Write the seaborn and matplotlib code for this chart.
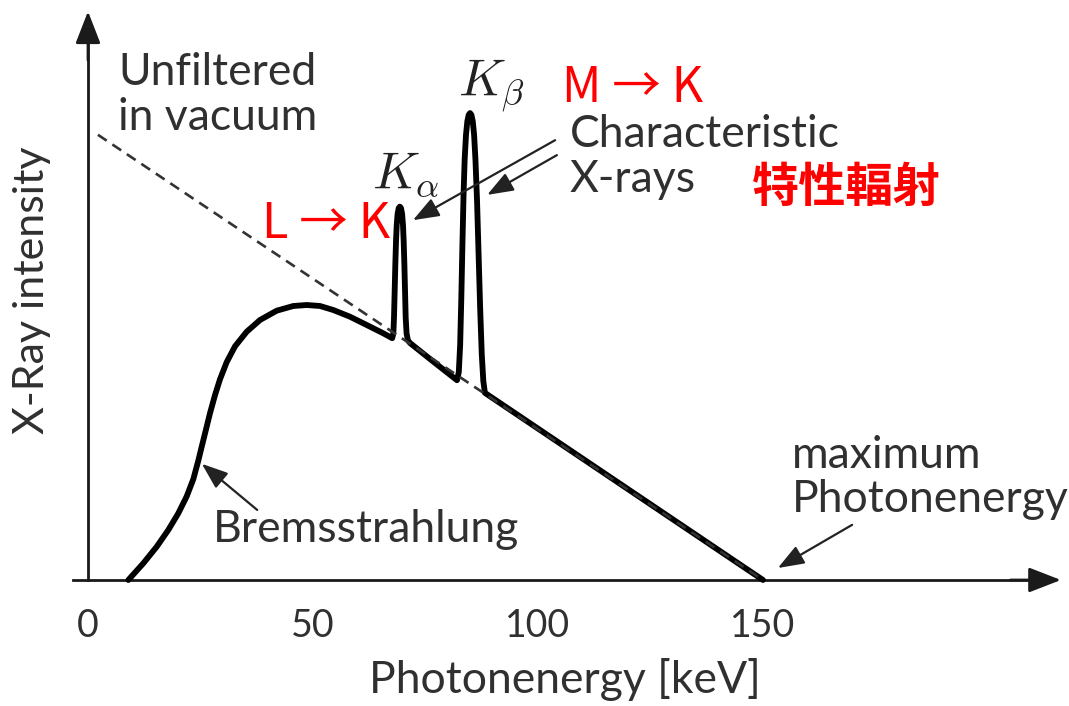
import matplotlib
matplotlib.use("Agg")
import matplotlib.pyplot as plt
import seaborn as sns
import pandas as pd

# ---------------- data ----------------
energy_keV = [8.96, 12.29, 15.27, 17.84, 20.07, 21.93, 23.40, 24.51, 25.27, 26.22, 27.11,
              28.22, 29.33, 30.82, 32.67, 35.27, 38.22, 41.93, 45.62, 48.6, 51.56, 54.51,
              58.22, 61.93, 65.62, 67.6,
              67.85, 68.0, 68.15, 68.3, 68.45, 68.6, 68.8, 69.05, 69.3, 69.55, 69.8, 70.0,
              70.15, 70.3, 70.45, 70.6, 70.8, 71.1, 71.6,
              76.5, 82.0,
              82.4, 82.7, 82.95, 83.2, 83.45, 83.7, 84.0, 84.3, 84.6, 84.9, 85.2, 85.5, 85.8,
              86.1, 86.45, 86.8, 87.15, 87.5, 87.85, 88.2,
              150.0]
intensity = [0.0, 3.69, 7.37, 11.06, 14.76, 18.5, 22.3, 26.4, 29.5, 33.3, 36.9,
             40.9, 44.4, 48.2, 51.7, 54.93, 57.52, 59.58, 60.62, 60.84, 60.62, 59.73,
             58.25, 56.42, 54.58, 53.5,
             54.5, 58.0, 64.0, 70.0, 75.0, 78.5, 81.0, 82.3, 82.6, 82.3, 81.0, 78.5,
             75.0, 70.0, 64.0, 58.0, 54.5, 53.0, 52.4,
             48.5, 44.2,
             46.0, 52.0, 62.0, 74.0, 85.0, 93.0, 98.5, 101.5, 102.9, 103.3, 102.9, 101.5, 98.5,
             93.0, 84.0, 72.0, 60.0, 50.0, 44.0, 41.4,
             0.0]
unfiltered_E = [2.2, 150.0]
unfiltered_I = [98.5, 0.0]
tick_values = [0, 50, 100, 150]
tick_labels = ["0", "50", "100", "150"]

# ---------------- style ----------------
sns.set_theme(style="white")
plt.rcParams["font.family"] = ["Lato", "DejaVu Sans"]
plt.rcParams["mathtext.fontset"] = "cm"

TXT = "#303030"
AX = "#1a1a1a"

fig = plt.figure(figsize=(10.69, 7.06), dpi=100)
ax = fig.add_axes([0, 0, 1, 1])
ax.set_facecolor("white")

# pixel mapping: x_px = 88 + 4.5*E ; y_px = 580 - 4.52*I
ax.set_xlim(-88 / 4.5, (1069 - 88) / 4.5)
ax.set_ylim(-126 / 4.52, 580 / 4.52)

spec = pd.DataFrame({"E": energy_keV, "I": intensity})
unf = pd.DataFrame({"E": unfiltered_E, "I": unfiltered_I})

sns.lineplot(data=spec, x="E", y="I", sort=False, estimator=None, ax=ax,
             color="black", linewidth=4.2, solid_joinstyle="round", zorder=3)
sns.lineplot(data=unf, x="E", y="I", sort=False, estimator=None, ax=ax,
             color="#333333", linewidth=1.9, linestyle=(0, (4.0, 2.6)), zorder=4)

# ---------------- axes ----------------
for s in ["top", "right"]:
    ax.spines[s].set_visible(False)
ax.spines["bottom"].set_position(("data", 0))
ax.spines["left"].set_position(("data", 0))
ax.spines["bottom"].set_bounds(-3.3, 212)
ax.spines["left"].set_bounds(0, 122)
for s in ["bottom", "left"]:
    ax.spines[s].set_linewidth(2.0)
    ax.spines[s].set_color(AX)
    ax.spines[s].set_zorder(2)

ax.set_xticks(tick_values)
ax.set_xticklabels(tick_labels)
ax.set_yticks([])
ax.tick_params(axis="x", direction="out", length=9.5, width=1.5, color=AX,
               pad=11, labelsize=27, labelcolor=TXT)
ax.set_xlabel("")
ax.set_ylabel("")

head = dict(arrowstyle="-|>,head_length=0.9,head_width=0.35", color=AX, lw=2.0,
            shrinkA=0, shrinkB=0, mutation_scale=22)
ax.annotate("", xy=(216.2, 0), xytext=(205, 0), arrowprops=head, zorder=2)
ax.annotate("", xy=(0, 125.8), xytext=(0, 115), arrowprops=head, zorder=2)

# ---------------- texts ----------------
fs = 32
ax.text(106, -25.0, "Photonenergy [keV]", ha="center", va="baseline", fontsize=fs, color=TXT)
ax.text(-12.4, 64.2, "X-Ray intensity", ha="center", va="center", rotation=90,
        fontsize=31, color=TXT)

ax.text(6.7, 109.5, "Unfiltered", ha="left", va="baseline", fontsize=fs, color=TXT)
ax.text(6.7, 99.6, "in vacuum", ha="left", va="baseline", fontsize=fs, color=TXT)
ax.text(107.1, 95.8, "Characteristic", ha="left", va="baseline", fontsize=fs, color=TXT)
ax.text(107.1, 85.8, "X-rays", ha="left", va="baseline", fontsize=fs, color=TXT)
ax.text(27.8, 8.4, "Bremsstrahlung", ha="left", va="baseline", fontsize=fs, color=TXT)
ax.text(156.4, 24.8, "maximum", ha="left", va="baseline", fontsize=fs, color=TXT)
ax.text(156.4, 15.0, "Photonenergy", ha="left", va="baseline", fontsize=fs, color=TXT)

ax.text(63.0, 86.7, r"$K_\alpha$", ha="left", va="baseline", fontsize=37, color="#222222")
ax.text(82.2, 106.9, r"$K_\beta$", ha="left", va="baseline", fontsize=37, color="#222222")

red_fam = ["Noto Sans CJK TC", "DejaVu Sans"]
ax.text(105.3, 105.8, "M → K", ha="left", va="baseline", fontsize=35, color="#ff0000",
        family=red_fam)
ax.text(38.7, 75.7, "L → K", ha="left", va="baseline", fontsize=35, color="#ff0000",
        family=red_fam)
ax.text(147.6, 83.6, "特性輻射", ha="left", va="baseline", fontsize=34, color="#ff0000",
        family=red_fam, fontweight="bold")

# ---------------- annotation arrows ----------------
arr = dict(arrowstyle="-|>,head_length=0.8,head_width=0.3", color="#222222", lw=1.6,
           shrinkA=0, shrinkB=0, mutation_scale=20)
ax.annotate("", xy=(72.2, 79.6), xytext=(103.8, 97.3), arrowprops=arr)
ax.annotate("", xy=(88.7, 85.2), xytext=(104.2, 94.0), arrowprops=arr)
ax.annotate("", xy=(25.3, 25.7), xytext=(37.6, 15.5), arrowprops=arr)
ax.annotate("", xy=(153.3, 2.65), xytext=(169.8, 12.2), arrowprops=arr)

fig.savefig("out.png", dpi=100, facecolor="white")
